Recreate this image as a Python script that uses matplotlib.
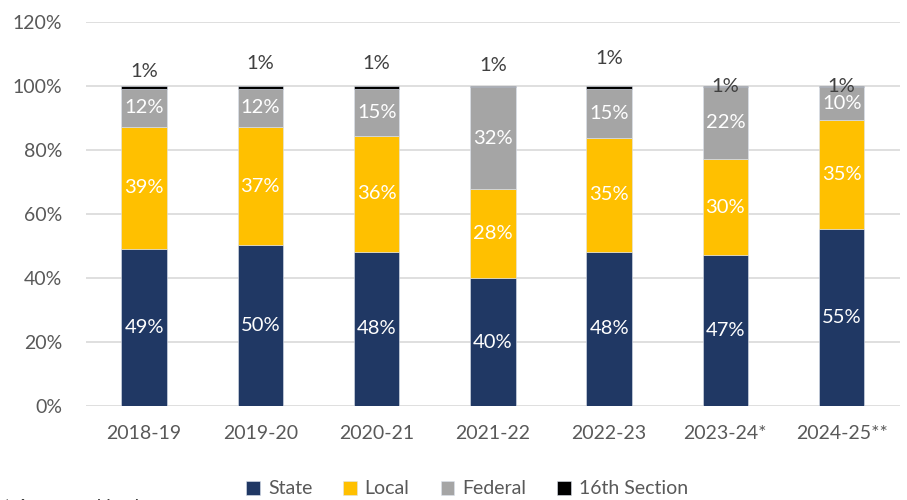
import numpy as np
import matplotlib.pyplot as plt

# datos (fracciones del total)
years = ["2018-19", "2019-20", "2020-21", "2021-22", "2022-23", "2023-24*", "2024-25**"]
state = [0.490, 0.502, 0.482, 0.399, 0.482, 0.472, 0.552]
local = [0.383, 0.371, 0.362, 0.279, 0.355, 0.299, 0.342]
federal = [0.117, 0.117, 0.146, 0.318, 0.153, 0.227, 0.104]
section16 = [0.010, 0.010, 0.010, 0.004, 0.010, 0.002, 0.002]

state_lbl = ["49%", "50%", "48%", "40%", "48%", "47%", "55%"]
local_lbl = ["39%", "37%", "36%", "28%", "35%", "30%", "35%"]
federal_lbl = ["12%", "12%", "15%", "32%", "15%", "22%", "10%"]
section16_lbl = ["1%", "1%", "1%", "1%", "1%", "1%", "1%"]

colores = {"State": "#203864", "Local": "#FFC000", "Federal": "#A5A5A5", "16th Section": "#000000"}

plt.rcParams['font.family'] = ['Lato', 'DejaVu Sans']

fig = plt.figure(figsize=(9.07, 5.0), dpi=100)
ax = fig.add_axes([0.0948, 0.188, 0.8972, 0.768])

x = np.arange(len(years))
w = 0.39
bottom = np.zeros(len(years))
series = [("State", state, state_lbl), ("Local", local, local_lbl),
          ("Federal", federal, federal_lbl), ("16th Section", section16, section16_lbl)]

for nombre, vals, lbls in series:
    vals = np.array(vals)
    ax.bar(x, vals, w, bottom=bottom, color=colores[nombre], label=nombre,
           edgecolor="#DDE3EE", linewidth=0.4, zorder=3)
    if nombre != "16th Section":
        for i in range(len(x)):
            ax.text(x[i], bottom[i] + vals[i] / 2, lbls[i], ha="center", va="center",
                    color="white", fontsize=14.5, zorder=4)
    else:
        # posiciones manuales de las etiquetas de 1%
        off = [0.045, 0.07, 0.07, 0.065, 0.085, 0.0, 0.0]
        for i in range(len(x)):
            ax.text(x[i], bottom[i] + vals[i] + off[i], lbls[i], ha="center", va="center",
                    color="#404040", fontsize=14.5, zorder=4)
    bottom = bottom + vals

ax.set_ylim(0, 1.2)
ax.set_xlim(-0.5, len(years) - 0.5)
ax.set_yticks(np.arange(0, 1.21, 0.2))
ax.set_yticklabels([f"{int(round(v * 100))}%" for v in np.arange(0, 1.21, 0.2)])
ax.set_xticks(x)
ax.set_xticklabels(years)
ax.tick_params(length=0, labelsize=14, colors="#595959")
ax.tick_params(axis="x", pad=14)
ax.tick_params(axis="y", pad=17)
ax.grid(axis="y", color="#D9D9D9", linewidth=1.2, zorder=0)
for s in ax.spines.values():
    s.set_visible(False)

fig.legend(loc="lower center", bbox_to_anchor=(0.515, -0.03), ncol=4, frameon=False,
           fontsize=14, handlelength=0.7, handleheight=0.7, handletextpad=0.4,
           columnspacing=1.6, labelcolor="#595959")

fig.text(0.003, -0.032, "* Approved budget", fontsize=14, color="#404040", va="bottom")

fig.savefig("out.png")
